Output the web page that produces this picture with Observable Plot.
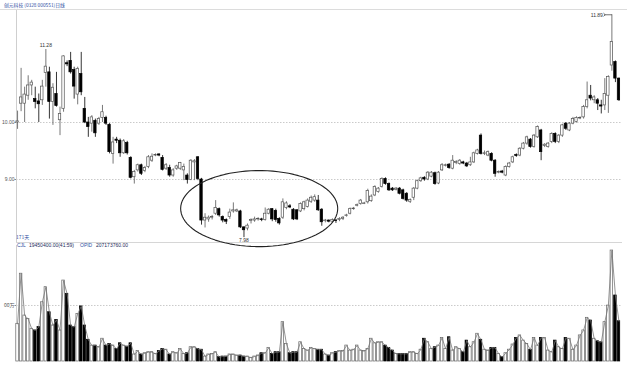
<!DOCTYPE html>
<html><head><meta charset="utf-8">
<script src="https://cdn.jsdelivr.net/npm/d3@7"></script>
<script src="https://cdn.jsdelivr.net/npm/@observablehq/plot@0.6"></script>
<style>
body{margin:0;background:#fff;}
#wrap{position:relative;width:627px;height:366px;overflow:hidden;font-family:"Liberation Sans",sans-serif;background:#fff;}
#wrap svg{position:absolute;left:0;overflow:visible;}
.t{position:absolute;white-space:nowrap;font-size:5px;line-height:6px;}
</style></head><body><div id="wrap"></div>
<script>
// ---- data (171 trading days) ----
const open = [10.00,10.33,10.33,10.47,10.65,10.41,10.37,10.39,10.87,10.88,10.36,10.50,10.04,10.24,11.04,11.08,10.92,10.49,10.85,10.24,10.00,9.98,10.03,9.98,10.08,10.08,9.96,9.45,9.70,9.68,9.46,9.64,9.38,9.04,9.16,9.25,9.15,9.22,9.33,9.42,9.44,9.38,9.19,9.20,9.07,9.19,9.19,9.16,9.07,8.99,9.30,9.39,9.00,8.28,8.30,8.33,8.40,8.48,8.34,8.29,8.34,8.44,8.44,8.44,8.16,8.14,8.27,8.28,8.30,8.30,8.29,8.40,8.48,8.45,8.31,8.33,8.50,8.53,8.47,8.46,8.44,8.48,8.52,8.61,8.63,8.63,8.47,8.27,8.28,8.26,8.28,8.29,8.31,8.36,8.40,8.48,8.54,8.57,8.57,8.60,8.62,8.72,8.78,8.87,9.01,8.92,8.84,8.82,8.84,8.81,8.75,8.61,8.68,8.84,8.97,9.03,9.00,9.05,9.11,8.93,9.16,9.24,9.26,9.19,9.29,9.27,9.30,9.28,9.25,9.30,9.45,9.77,9.45,9.42,9.45,9.33,9.12,9.14,9.07,9.22,9.30,9.43,9.42,9.54,9.63,9.70,9.57,9.74,9.86,9.59,9.57,9.66,9.80,9.66,9.77,9.98,9.86,9.98,10.01,10.07,10.09,10.27,10.47,10.39,10.39,10.30,10.30,10.47,11.00,11.06,10.77];
const high = [10.20,10.95,10.62,10.82,10.74,10.62,10.50,10.74,11.28,10.97,10.68,10.88,10.27,11.17,11.08,11.23,10.97,10.97,11.23,10.44,10.09,10.12,10.06,10.09,10.30,10.11,9.98,9.74,9.74,9.71,9.70,9.67,9.40,9.16,9.27,9.27,9.23,9.42,9.45,9.45,9.45,9.42,9.28,9.25,9.19,9.25,9.30,9.27,9.10,9.35,9.35,9.40,9.02,8.40,8.36,8.37,8.63,8.50,8.36,8.31,8.48,8.59,8.48,8.46,8.17,8.22,8.31,8.34,8.33,8.32,8.50,8.49,8.49,8.48,8.33,8.66,8.61,8.56,8.49,8.47,8.59,8.62,8.66,8.71,8.73,8.72,8.49,8.30,8.29,8.31,8.30,8.33,8.35,8.39,8.50,8.51,8.57,8.65,8.60,8.83,8.73,8.89,8.86,9.03,9.03,8.94,8.86,8.86,8.86,8.83,8.77,8.66,8.86,8.99,9.04,9.05,9.14,9.14,9.13,9.14,9.28,9.27,9.28,9.42,9.33,9.35,9.32,9.30,9.39,9.48,9.53,9.80,9.50,9.50,9.47,9.35,9.15,9.16,9.24,9.30,9.41,9.45,9.56,9.65,9.76,9.72,9.79,9.94,9.88,9.63,9.65,9.82,9.82,9.79,9.97,10.00,10.00,10.09,10.10,10.10,10.30,10.71,10.65,10.47,10.42,10.39,10.77,10.82,11.89,11.08,10.78];
const low = [9.88,10.19,10.00,10.39,10.47,10.24,10.00,10.30,10.62,10.06,9.95,10.27,9.77,10.18,10.98,10.85,10.41,10.31,10.47,9.98,9.74,9.83,9.74,9.95,10.00,9.95,9.45,9.27,9.63,9.39,9.44,9.43,9.01,8.92,9.13,9.07,9.12,9.19,9.30,9.40,9.40,9.15,9.16,9.04,9.04,9.16,9.16,8.98,8.92,8.98,8.98,8.98,8.20,8.15,8.25,8.29,8.37,8.34,8.24,8.21,8.30,8.41,8.42,8.14,7.98,8.10,8.22,8.25,8.27,8.26,8.27,8.38,8.26,8.25,8.20,8.30,8.47,8.49,8.28,8.28,8.42,8.45,8.50,8.58,8.60,8.44,8.18,8.24,8.24,8.24,8.23,8.26,8.28,8.34,8.38,8.46,8.52,8.55,8.56,8.57,8.60,8.70,8.76,8.85,8.90,8.79,8.79,8.80,8.73,8.64,8.60,8.58,8.63,8.82,8.95,8.97,8.98,9.03,8.90,8.91,9.14,9.22,9.18,9.17,9.26,9.25,9.26,9.21,9.23,9.28,9.43,9.43,9.42,9.40,9.31,9.04,9.10,9.10,9.05,9.20,9.28,9.39,9.40,9.52,9.60,9.55,9.55,9.72,9.33,9.56,9.55,9.63,9.63,9.63,9.74,9.86,9.84,9.96,9.99,10.05,10.06,10.24,10.38,10.33,10.21,10.15,10.21,10.16,10.90,10.70,10.37];
const close = [10.02,10.44,10.49,10.65,10.70,10.36,10.32,10.63,10.98,10.36,10.61,10.29,10.15,11.16,11.02,10.88,10.63,10.94,10.53,10.00,9.92,10.09,9.81,10.06,10.18,9.98,9.48,9.65,9.68,9.46,9.67,9.46,9.03,9.13,9.25,9.10,9.20,9.39,9.40,9.43,9.42,9.17,9.25,9.07,9.16,9.23,9.29,9.22,8.99,9.33,9.32,9.01,8.28,8.33,8.33,8.34,8.50,8.37,8.28,8.26,8.42,8.46,8.46,8.16,8.11,8.19,8.29,8.30,8.31,8.29,8.40,8.47,8.30,8.29,8.23,8.60,8.58,8.51,8.30,8.30,8.57,8.60,8.63,8.68,8.69,8.46,8.25,8.28,8.26,8.29,8.27,8.31,8.33,8.37,8.48,8.49,8.55,8.63,8.58,8.80,8.70,8.87,8.84,9.01,8.92,8.81,8.81,8.84,8.75,8.66,8.63,8.64,8.84,8.97,9.02,9.00,9.12,9.12,8.92,9.12,9.25,9.25,9.20,9.33,9.31,9.33,9.28,9.23,9.30,9.46,9.51,9.45,9.46,9.48,9.33,9.10,9.13,9.12,9.22,9.28,9.39,9.41,9.54,9.63,9.74,9.57,9.77,9.92,9.48,9.61,9.63,9.80,9.66,9.77,9.95,9.89,9.98,10.06,10.08,10.08,10.27,10.39,10.42,10.44,10.33,10.28,10.50,10.80,11.41,10.77,10.39];
// volume, 万股
const volume = [1820,4240,2220,2060,1580,1500,1660,2860,3590,2380,1740,2010,1500,3910,3270,1740,1660,2300,2660,1740,1050,770,770,690,1100,770,850,770,610,880,770,720,880,340,500,340,400,450,450,370,500,610,570,340,450,400,610,370,400,690,690,610,
 570,240,340,370,450,210,240,240,340,340,290,290,240,240,180,240,290,400,400,660,370,450,450,1900,
 850,400,450,450,930,610,530,660,610,570,570,340,290,400,450,500,500,770,530,570,770,530,500,610,1100,880,930,930,770,660,530,370,370,370,370,450,
 450,370,570,1100,930,610,690,770,1140,610,1170,530,690,610,450,1010,690,930,1340,1050,570,530,660,660,370,210,400,570,820,1140,1260,1010,850,570,1140,770,1140,1140,530,450,1010,690,610,1140,1100,570,770,1260,1500,2110,1980,1100,980,930,1900,2700,5360,3190,1945.04];
const titleText = "创元科技 (0328 000551)日线";
const dayCountText = "171天";
const volInfo = {name:"CJL", value:"19450400.00(41:59)", name2:"OPID", value2:"207173760.00"};
const priceTicks = [9, 10];
const volTick = 2705;
const volTickLabel = "00万";
const markHigh = {label:"11.28", day:8};
const markLow = {label:"7.98", day:64};
const markTop = {label:"11.89", day:168};
const ellipseSpec = {day:68.3, price:8.49, rDay:22.2, rPrice:0.667};

const days = d3.range(open.length);
const candles = days.map(i => ({i, o:open[i], h:high[i], l:low[i], c:close[i], v:volume[i], up: close[i] >= open[i]}));
const xDomain = [-0.3, 171];
const W = 627;
const upStroke = "#555";
const FONT = "Liberation Sans, sans-serif";

const wrap = document.getElementById("wrap");

// ---- price panel ----
const priceY = [7.895, 11.965];
const ell = d3.range(0, 361, 4).map(a => ({
  x: ellipseSpec.day + ellipseSpec.rDay * Math.cos(a * Math.PI / 180),
  y: ellipseSpec.price + ellipseSpec.rPrice * Math.sin(a * Math.PI / 180)
}));
const price = Plot.plot({
  width: W, height: 243,
  marginLeft: 16, marginRight: 5, marginTop: 10, marginBottom: 1,
  x: {domain: xDomain, axis: null},
  y: {domain: priceY, axis: null},
  style: {fontFamily: FONT, background: "transparent", overflow: "visible"},
  marks: [
    Plot.ruleY(priceTicks, {stroke: "#bdbdbd", strokeDasharray: "1.5,1.5", strokeWidth: 0.8}),
    Plot.axisY({ticks: priceTicks, tickFormat: d => d.toFixed(2), label: null, tickSize: 1.5, tickPadding: 0.5, fontSize: 5, color: "#555", stroke: "#888"}),
    Plot.ruleY([priceY[0]], {stroke: "#d6d6d6", strokeWidth: 1}),
    Plot.ruleX([xDomain[0]], {stroke: "#cfcfcf", strokeWidth: 1}),
    Plot.ruleX(candles, {x: "i", y1: "l", y2: "h", stroke: d => d.up ? upStroke : "#000", strokeWidth: 0.8}),
    Plot.rect(candles, {x1: d => d.i - 0.34, x2: d => d.i + 0.34,
      y1: d => Math.min(d.o, d.c), y2: d => Math.max(d.o, d.c),
      fill: d => d.up ? "#fff" : "#000", stroke: d => d.up ? upStroke : "#000", strokeWidth: 0.7}),
    Plot.line(ell, {x: "x", y: "y", stroke: "#222", strokeWidth: 1.1}),
    Plot.text([markHigh], {x: d => d.day, y: d => high[d.day], text: "label", dy: -4, fontSize: 5, fill: "#333"}),
    Plot.text([markLow], {x: d => d.day, y: d => low[d.day], text: "label", dy: 3, fontSize: 5, fill: "#333"}),
    Plot.text([markTop], {x: d => d.day, y: d => high[d.day], text: "label", dx: -9, dy: 1, textAnchor: "end", fontSize: 5, fill: "#333"}),
    Plot.link([markTop], {x1: d => d.day - 2.1, x2: d => d.day, y1: d => high[d.day], y2: d => high[d.day], stroke: "#333", strokeWidth: 0.7, markerStart: "arrow"})
  ]
});
price.style.top = "0px";
wrap.appendChild(price);

// ---- volume panel ----
const volMax = 5603;
const vol = Plot.plot({
  width: W, height: 124,
  marginLeft: 16, marginRight: 5, marginTop: 3, marginBottom: 5,
  x: {domain: xDomain, axis: null},
  y: {domain: [0, volMax], axis: null},
  style: {fontFamily: FONT, background: "transparent"},
  marks: [
    Plot.ruleY([volTick], {stroke: "#bdbdbd", strokeDasharray: "1.5,1.5", strokeWidth: 0.8}),
    Plot.axisY({ticks: [volTick], tickFormat: () => volTickLabel, label: null, tickSize: 1.5, tickPadding: 0.5, fontSize: 5, color: "#555", stroke: "#888", fontFamily: "Noto Sans CJK SC, sans-serif"}),
    Plot.ruleX([xDomain[0]], {stroke: "#cfcfcf", strokeWidth: 1}),
    Plot.rect(candles, {x1: d => d.i - 0.36, x2: d => d.i + 0.36, y1: 0, y2: "v",
      fill: d => d.up ? "#fff" : "#000", stroke: d => d.up ? "#666" : "#000", strokeWidth: 0.7}),
    Plot.line(candles, {x: "i", y: "v", stroke: "#777", strokeWidth: 0.8})
  ]
});
vol.style.top = "242px";
wrap.appendChild(vol);

// ---- top line and texts ----
const topLine = document.createElement("div");
topLine.style.cssText = "position:absolute;left:0;top:9px;width:627px;height:0;border-top:1.5px solid #dcdcdc;";
wrap.appendChild(topLine);

function addText(txt, left, top, color, fam, size) {
  const d = document.createElement("div");
  d.className = "t";
  d.textContent = txt;
  d.style.left = left + "px";
  d.style.top = top + "px";
  d.style.color = color;
  if (fam) d.style.fontFamily = fam;
  if (size) d.style.fontSize = size + "px";
  wrap.appendChild(d);
  return d;
}
addText(titleText, 4, 2, "#2f4f9f", "'Noto Sans CJK SC', sans-serif", 4.8);
addText(dayCountText, 16, 234, "#2f4f9f", "'Noto Sans CJK SC', sans-serif", 5);
addText(volInfo.name, 17, 242, "#2f4f9f");
addText(volInfo.value, 29, 242, "#1c2a5a");
addText(volInfo.name2, 80, 242, "#2f4f9f");
addText(volInfo.value2, 96, 242, "#1c2a5a");
</script></body></html>
